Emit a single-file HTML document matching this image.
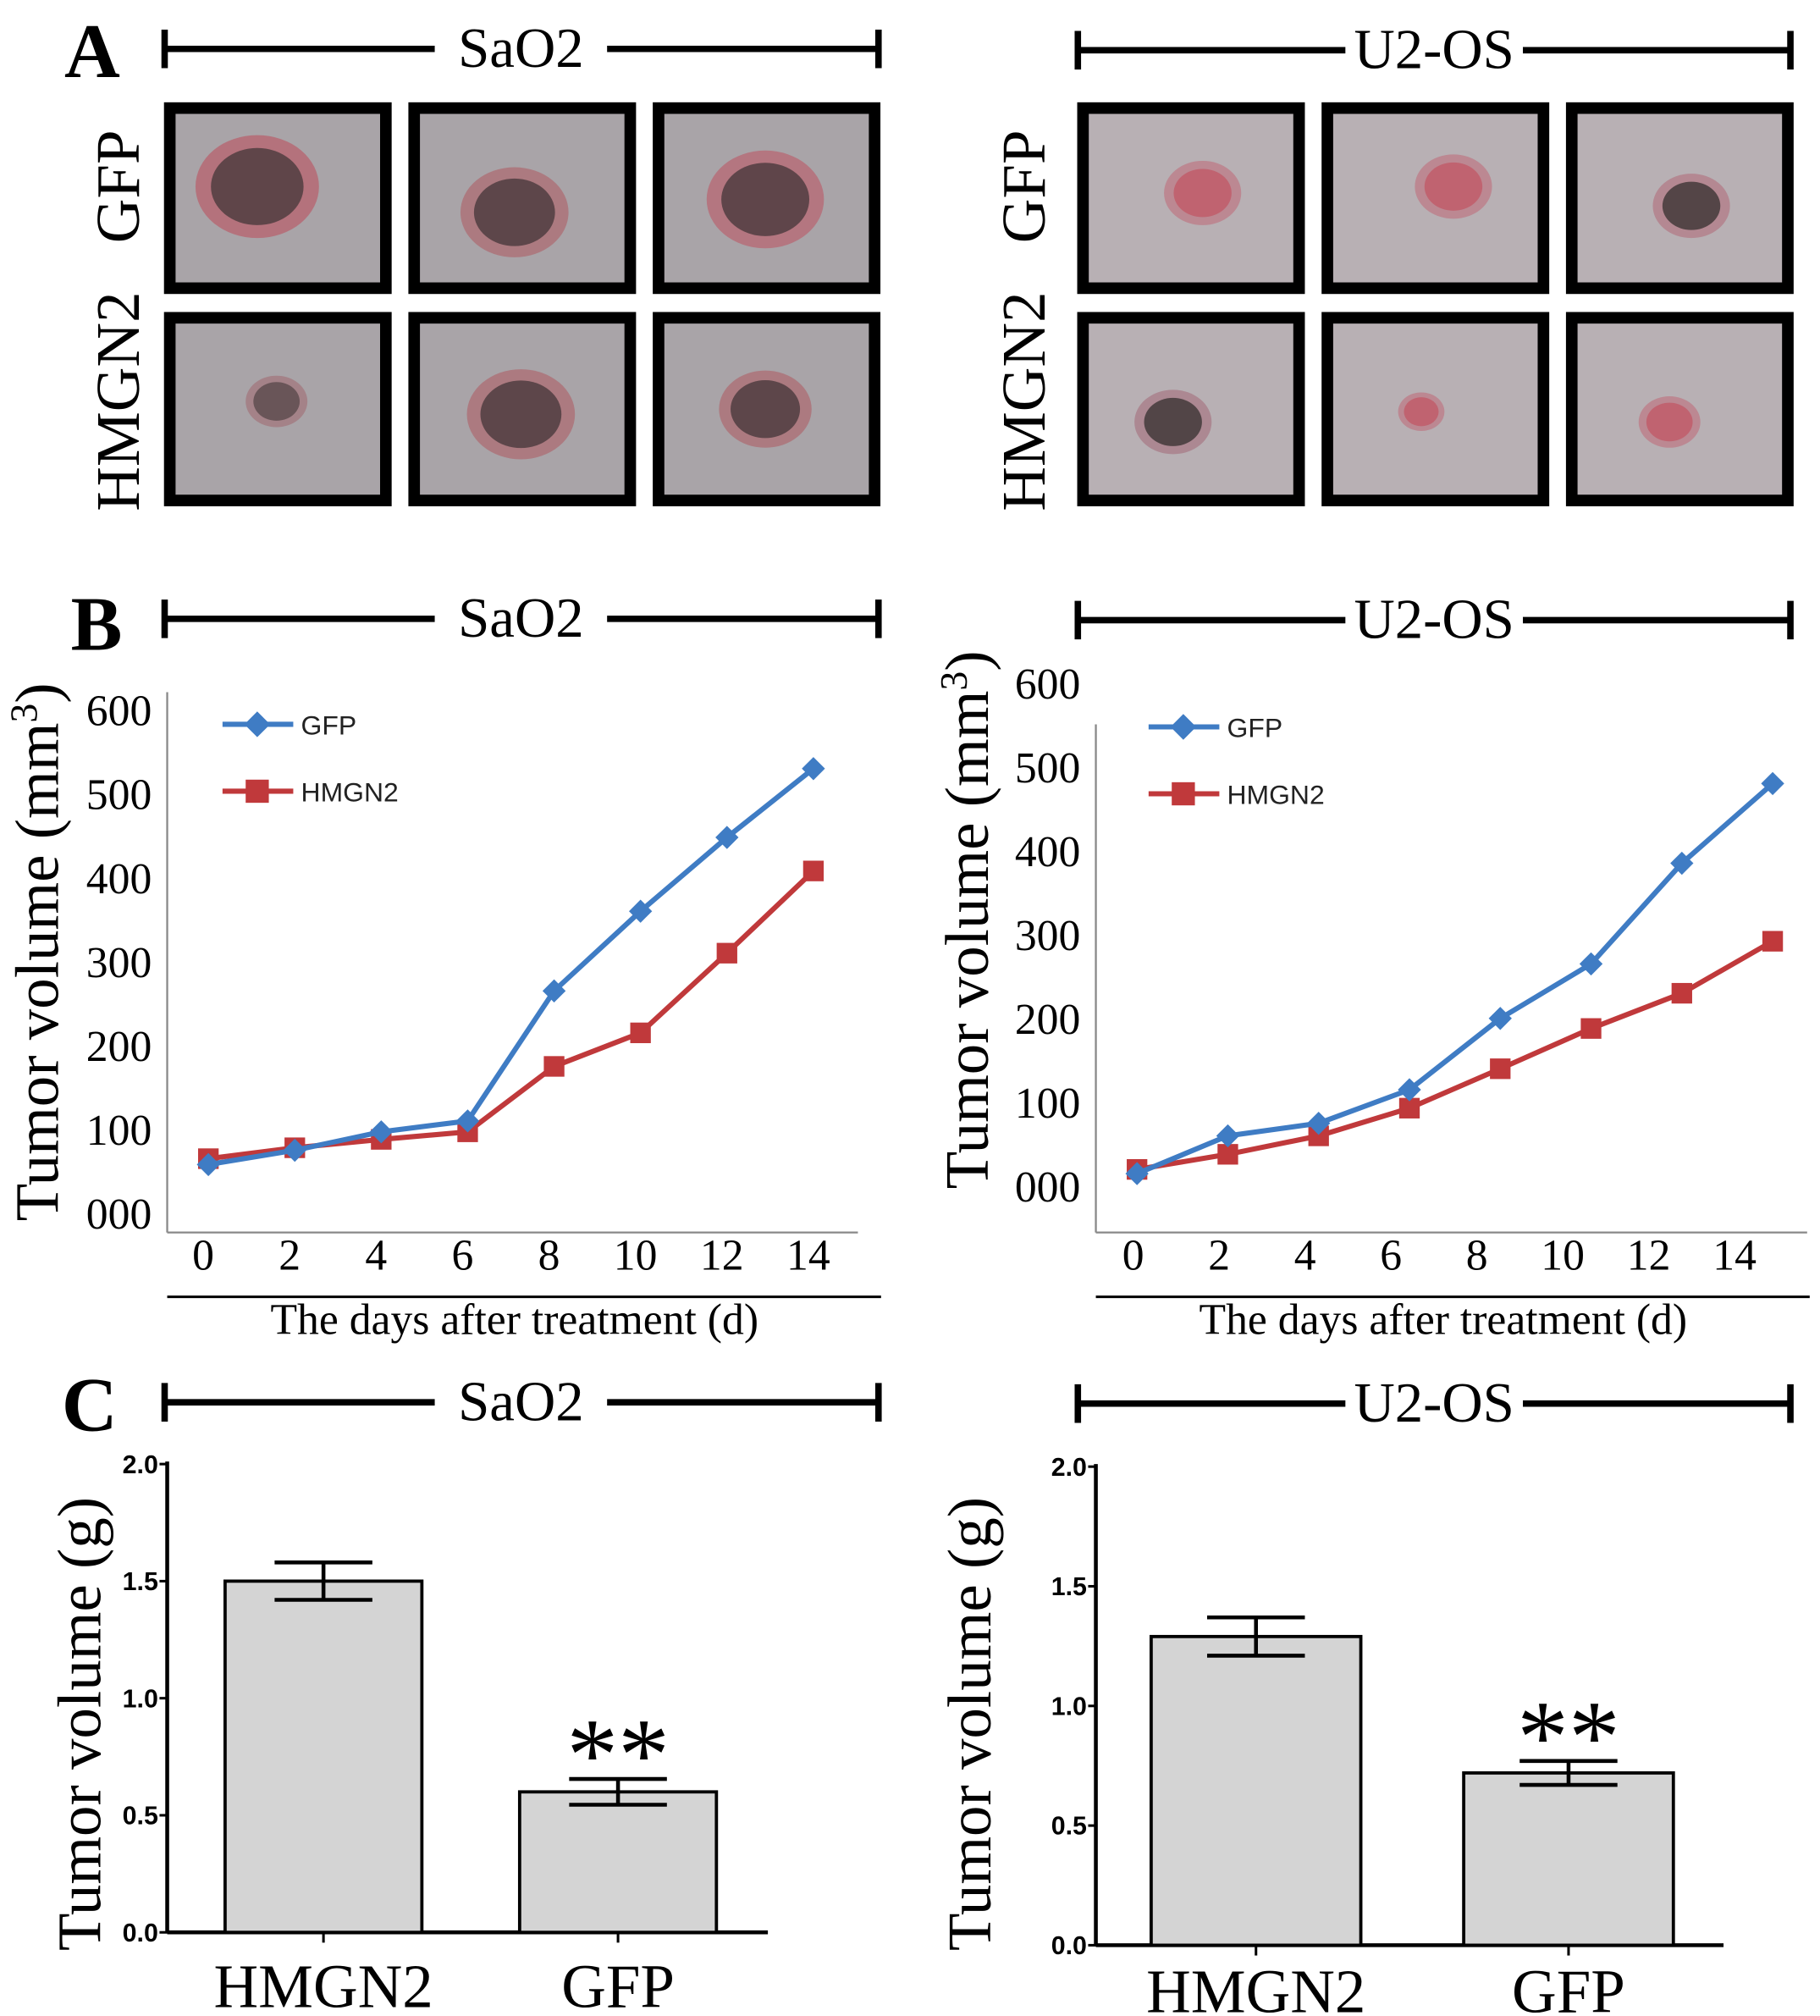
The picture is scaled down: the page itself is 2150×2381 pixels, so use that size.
<!DOCTYPE html>
<html><head><meta charset="utf-8"><style>
body{margin:0;background:#fff}
svg{display:block}
.serif{font-family:"Liberation Serif",serif}
.sans{font-family:"Liberation Sans",sans-serif}
</style></head><body>
<svg id="fig" width="2150" height="2381" viewBox="0 0 1415 1567" xmlns="http://www.w3.org/2000/svg">
<g id="static" class="serif">
<text x="50" y="60" font-size="60" font-weight="bold">A</text>
<text x="55" y="505" font-size="60" font-weight="bold">B</text>
<text x="48" y="1112" font-size="60" font-weight="bold">C</text>
<text transform="translate(108,145) rotate(-90)" text-anchor="middle" font-size="48">GFP</text>
<text transform="translate(108,312) rotate(-90)" text-anchor="middle" font-size="48">HMGN2</text>
<text transform="translate(812,145) rotate(-90)" text-anchor="middle" font-size="48">GFP</text>
<text transform="translate(812,312) rotate(-90)" text-anchor="middle" font-size="48">HMGN2</text>
</g>
<g id="headers"></g>
<g id="photos"></g>
<g id="lineCharts"></g>
<g id="barCharts"></g>
</svg>
<script>
const NS='http://www.w3.org/2000/svg';
function mk(p,tag,attrs,txt){const e=document.createElementNS(NS,tag);for(const k in attrs)e.setAttribute(k,attrs[k]);if(txt!==undefined)e.textContent=txt;p.appendChild(e);return e;}

// ===== data =====
const days=[0,2,4,6,8,10,12,14];
const sao2Gfp=[58,75,97,110,265,360,448,530];
const sao2Hmgn2=[65,78,88,97,175,215,310,408];
const u2osGfp=[15,60,75,115,200,265,385,480];
const u2osHmgn2=[20,38,60,93,140,188,230,292];
const volTicks=[0,100,200,300,400,500,600];
const volTickLabels=['000','100','200','300','400','500','600'];
const barCategories=['HMGN2','GFP'];
const sao2Weight=[1.5,0.6];
const sao2Err=[0.08,0.055];
const u2osWeight=[1.29,0.72];
const u2osErr=[0.08,0.05];
const weightTicks=[0,0.5,1.0,1.5,2.0];

// ===== headers =====
const H=document.getElementById('headers');
function header(x1,x2,y,label,gapL,gapR,name){
  const g=mk(H,'g',{});
  
  
  mk(g,'line',{x1:x1,y1:y,x2:gapL,y2:y,stroke:'#000','stroke-width':5});
  mk(g,'line',{x1:gapR,y1:y,x2:x2,y2:y,stroke:'#000','stroke-width':5});
  mk(g,'line',{x1:x1,y1:y-15,x2:x1,y2:y+15,stroke:'#000','stroke-width':5});
  mk(g,'line',{x1:x2,y1:y-15,x2:x2,y2:y+15,stroke:'#000','stroke-width':5});
  const t=mk(g,'text',{x:(gapL+gapR)/2,y:y+14,'text-anchor':'middle','font-size':44,'font-family':'Liberation Serif, serif'},label);
  
  
}
[[38,'a'],[481,'b'],[1090,'c']].forEach(([y,p])=>{
  header(128,683,y,'SaO2',338,472,'header-sao2-'+p);
  header(838,1392,y+1,'U2-OS',1046,1184,'header-u2os-'+p);
});

// ===== photos =====
const P=document.getElementById('photos');
const photoCols=[[128,318,508],[838,1028,1218]];
const blobs=[
 [[200,145,40,'#4a3a3c','#c04050'],[400,165,35,'#4a3a3c','#b05058'],[595,155,38,'#4a3a3c','#c04858']],
 [[215,312,20,'#5a4a4c','#a06068'],[405,322,35,'#4a3a3c','#b05058'],[595,318,30,'#4a3a3c','#b05058']],
 [[935,150,25,'#c05a68','#c06070'],[1130,145,25,'#c05a68','#c06070'],[1315,160,25,'#3c3434','#b06070']],
 [[912,328,25,'#3c3434','#a06070'],[1105,320,15,'#c05a68','#c06070'],[1298,328,20,'#c05a68','#c06070']]
];
const rowsY=[[80,228],[243,393]];
photoCols.forEach((cols,side)=>{
  rowsY.forEach((ry,r)=>{
    cols.forEach((cx,c)=>{
      const g=mk(P,'g',{});
      
      
      mk(g,'rect',{x:cx+4,y:ry[0]+4,width:168,height:ry[1]-ry[0]-8,fill:side?'#b8b0b4':'#a9a4a8',stroke:'#000','stroke-width':9});
      const b=blobs[side*2+r][c];
      mk(g,'ellipse',{cx:b[0],cy:b[1],rx:b[2]*1.2,ry:b[2],fill:b[4],opacity:0.5});
      mk(g,'ellipse',{cx:b[0],cy:b[1],rx:b[2]*0.9,ry:b[2]*0.75,fill:b[3],opacity:0.8});
    });
  });
});

// ===== line charts =====
const L=document.getElementById('lineCharts');
function lineChart(o){
  const g=mk(L,'g',{});
  
  
  const y=v=>o.y0-v*o.ppu;
  const xp=d=>o.px0+d*o.pstep;
  const xl=d=>o.lx0+d*o.lstep;
  mk(g,'line',{x1:o.ax,y1:o.axTop,x2:o.ax,y2:958,stroke:'#888','stroke-width':1.5});
  mk(g,'line',{x1:o.ax,y1:958,x2:o.axRight,y2:958,stroke:'#888','stroke-width':1.5});
  volTicks.forEach((v,i)=>{
    const t=mk(g,'text',{x:o.ax-12,y:y(v)+12,'text-anchor':'end','font-size':34,'font-family':'Liberation Serif, serif'},volTickLabels[i]);
    
    
  });
  days.forEach(d=>{
    const t=mk(g,'text',{x:xl(d),y:987,'text-anchor':'middle','font-size':34,'font-family':'Liberation Serif, serif'},String(d));
    
    
  });
  mk(g,'line',{x1:o.ax,y1:1008,x2:o.ax+555,y2:1008,stroke:'#000','stroke-width':2});
  const xt=mk(g,'text',{x:o.ax+270,y:1037,'text-anchor':'middle','font-size':34,'font-family':'Liberation Serif, serif'},'The days after treatment (d)');
  
  
  const yt=mk(g,'text',{transform:`translate(${o.ylx},${o.yly}) rotate(-90)`,'text-anchor':'middle','font-size':48,'font-family':'Liberation Serif, serif'});
  
  
  yt.appendChild(document.createTextNode('Tumor volume (mm'));
  mk(yt,'tspan',{'baseline-shift':'super','font-size':30},'3');
  yt.appendChild(document.createTextNode(')'));
  const series=[[o.hm,'#c0393b','square','hmgn2'],[o.gfp,'#3f7cc4','diamond','gfp']];
  series.forEach(([vals,col,shape,nm])=>{
    const pts=vals.map((v,i)=>xp(days[i])+','+y(v)).join(' ');
    const pl=mk(g,'polyline',{points:pts,fill:'none',stroke:col,'stroke-width':4});
    
    
    vals.forEach((v,i)=>{
      const cx=xp(days[i]),cy=y(v);
      let m;
      if(shape==='square') m=mk(g,'rect',{x:cx-8,y:cy-8,width:16,height:16,fill:col});
      else m=mk(g,'polygon',{points:`${cx},${cy-9} ${cx+9},${cy} ${cx},${cy+9} ${cx-9},${cy}`,fill:col});
      
      
    });
  });
  [['GFP','#3f7cc4','diamond',o.legY],['HMGN2','#c0393b','square',o.legY+52]].forEach(([lab,col,shape,ly])=>{
    const lg=mk(g,'g',{});
    
    
    mk(lg,'line',{x1:o.legX,y1:ly,x2:o.legX+55,y2:ly,stroke:col,'stroke-width':4});
    const cx=o.legX+27;
    if(shape==='square') mk(lg,'rect',{x:cx-9,y:ly-9,width:18,height:18,fill:col});
    else mk(lg,'polygon',{points:`${cx},${ly-10} ${cx+10},${ly} ${cx},${ly+10} ${cx-10},${ly}`,fill:col});
    mk(lg,'text',{x:o.legX+61,y:ly+8,'font-size':21,'font-family':'Liberation Sans, sans-serif',fill:'#222'},lab);
  });
}
lineChart({id:'sao2',ax:130,axTop:538,axRight:667,y0:943,ppu:0.652,px0:162,pstep:33.6,lx0:158,lstep:33.6,gfp:sao2Gfp,hm:sao2Hmgn2,ylx:45,yly:740,legX:173,legY:563});
lineChart({id:'u2os',ax:852,axTop:563,axRight:1405,y0:922,ppu:0.652,px0:884,pstep:35.3,lx0:881,lstep:33.4,gfp:u2osGfp,hm:u2osHmgn2,ylx:768,yly:715,legX:893,legY:565});

// ===== bar charts =====
const B=document.getElementById('barCharts');
function barChart(o){
  const g=mk(B,'g',{});
  
  
  const y=v=>o.y0-v*o.ppu;
  mk(g,'line',{x1:o.ax,y1:y(2)-2,x2:o.ax,y2:o.y0,stroke:'#000','stroke-width':3});
  mk(g,'line',{x1:o.ax,y1:o.y0,x2:o.axRight,y2:o.y0,stroke:'#000','stroke-width':3});
  weightTicks.forEach(v=>{
    mk(g,'line',{x1:o.ax-6,y1:y(v),x2:o.ax,y2:y(v),stroke:'#000','stroke-width':2});
    const t=mk(g,'text',{x:o.ax-7,y:y(v)+7,'text-anchor':'end','font-size':20,'font-weight':'bold','font-family':'Liberation Sans, sans-serif'},v.toFixed(1));
    
    
  });
  barCategories.forEach((c,i)=>{
    const x0=o.bx[i],cx=x0+o.bw/2,v=o.vals[i],e=o.errs[i];
    const r=mk(g,'rect',{x:x0,y:y(v),width:o.bw,height:o.y0-y(v),fill:'#d4d4d4',stroke:'#000','stroke-width':2.5});
    
    
    const eb=mk(g,'path',{d:`M${cx-38},${y(v+e)}H${cx+38}M${cx},${y(v+e)}V${y(v-e)}M${cx-38},${y(v-e)}H${cx+38}`,stroke:'#000','stroke-width':3,fill:'none'});
    
    
    mk(g,'line',{x1:cx,y1:o.y0,x2:cx,y2:o.y0+8,stroke:'#000','stroke-width':2});
    const t=mk(g,'text',{x:cx,y:o.y0+o.labOff,'text-anchor':'middle','font-size':48,'font-family':'Liberation Serif, serif'},c);
    
    
    if(i===1){
      const s=mk(g,'text',{x:cx,y:y(v+e)+8,'text-anchor':'middle','font-size':80,'font-family':'Liberation Serif, serif'},'**');
      
      
    }
  });
  const yt=mk(g,'text',{transform:`translate(${o.ylx},${o.yly}) rotate(-90)`,'text-anchor':'middle','font-size':48,'font-family':'Liberation Serif, serif'},'Tumor volume (g)');
  
  
}
barChart({id:'sao2',ax:130,axRight:597,y0:1502,ppu:182,bx:[175,404],bw:153,vals:sao2Weight,errs:sao2Err,ylx:78,yly:1340,labOff:58});
barChart({id:'u2os',ax:852,axRight:1340,y0:1512,ppu:186,bx:[895,1138],bw:163,vals:u2osWeight,errs:u2osErr,ylx:770,yly:1340,labOff:52});
</script>
</body></html>
